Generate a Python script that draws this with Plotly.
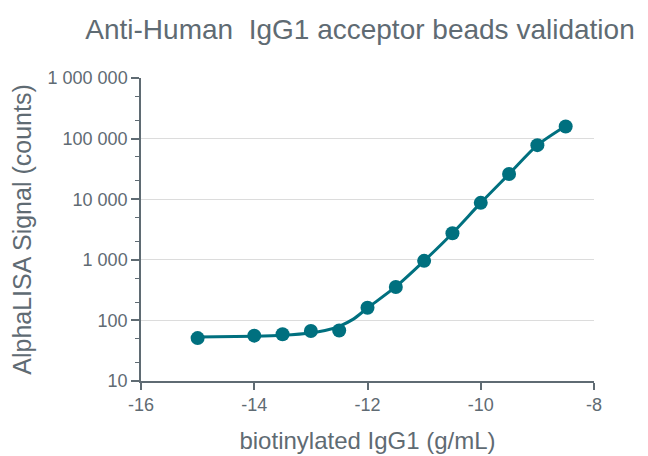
import plotly.graph_objects as go

# data
log_conc = [-15, -14, -13.5, -13, -12.5, -12, -11.5, -11, -10.5, -10, -9.5, -9, -8.5]
signal = [51, 56, 59, 67, 68, 162, 355, 960, 2750, 8700, 26000, 78000, 158000]

fit_x = [-15, -14, -13.5, -13, -12.75, -12.5, -12.25, -12, -11.5, -11, -10.5, -10, -9.5, -9, -8.5]
fit_y = [53, 55, 57, 62, 68, 80, 105, 160, 360, 960, 2750, 8700, 26000, 78000, 162000]

y_tickvals = [10, 100, 1000, 10000, 100000, 1000000]
y_ticktext = ["10", "100", "1 000", "10 000", "100 000", "1 000 000"]
x_tickvals = [-16, -14, -12, -10, -8]
x_ticktext = ["-16", "-14", "-12", "-10", "-8"]

teal = "#00707f"
grey = "#5f6b73"

fig = go.Figure()
fig.add_trace(go.Scatter(x=fit_x, y=fit_y, mode="lines",
                         line=dict(color=teal, width=3, shape="spline", smoothing=0.8),
                         hoverinfo="skip", showlegend=False))
fig.add_trace(go.Scatter(x=log_conc, y=signal, mode="markers",
                         marker=dict(color=teal, size=14), showlegend=False))

fig.update_layout(
    width=640, height=448,
    margin=dict(l=133, r=54, t=70, b=75),
    paper_bgcolor="white", plot_bgcolor="white",
    font=dict(family="Liberation Sans, Arial, sans-serif", color=grey, size=18),
    title=dict(text="Anti-Human&nbsp; IgG1 acceptor beads validation", x=0.55, xanchor="center",
               y=0.953, yanchor="middle", font=dict(size=28, color=grey)),
    xaxis=dict(range=[-16, -8], tickvals=x_tickvals, ticktext=x_ticktext,
               ticks="outside", ticklen=7, tickcolor=grey, tickwidth=1.5,
               showline=True, linecolor=grey, linewidth=1.5, showgrid=False, zeroline=False,
               automargin=False,
               title=dict(text="biotinylated IgG1 (g/mL)", font=dict(size=24, color=grey), standoff=18),
               tickfont=dict(size=18)),
    yaxis=dict(type="log", range=[1, 6], tickvals=y_tickvals, ticktext=y_ticktext,
               ticks="outside", ticklen=8, tickcolor=grey, tickwidth=1.5,
               minor=dict(ticks="outside", ticklen=4, tickcolor=grey, tickwidth=1, showgrid=False),
               showline=True, linecolor=grey, linewidth=1.5,
               showgrid=True, gridcolor="#dcdcdc", gridwidth=1.2,
               zeroline=False, automargin=False,
               title=dict(text="AlphaLISA Signal (counts)", font=dict(size=25, color=grey), standoff=12),
               tickfont=dict(size=18)),
)

fig.write_html("out.html")
